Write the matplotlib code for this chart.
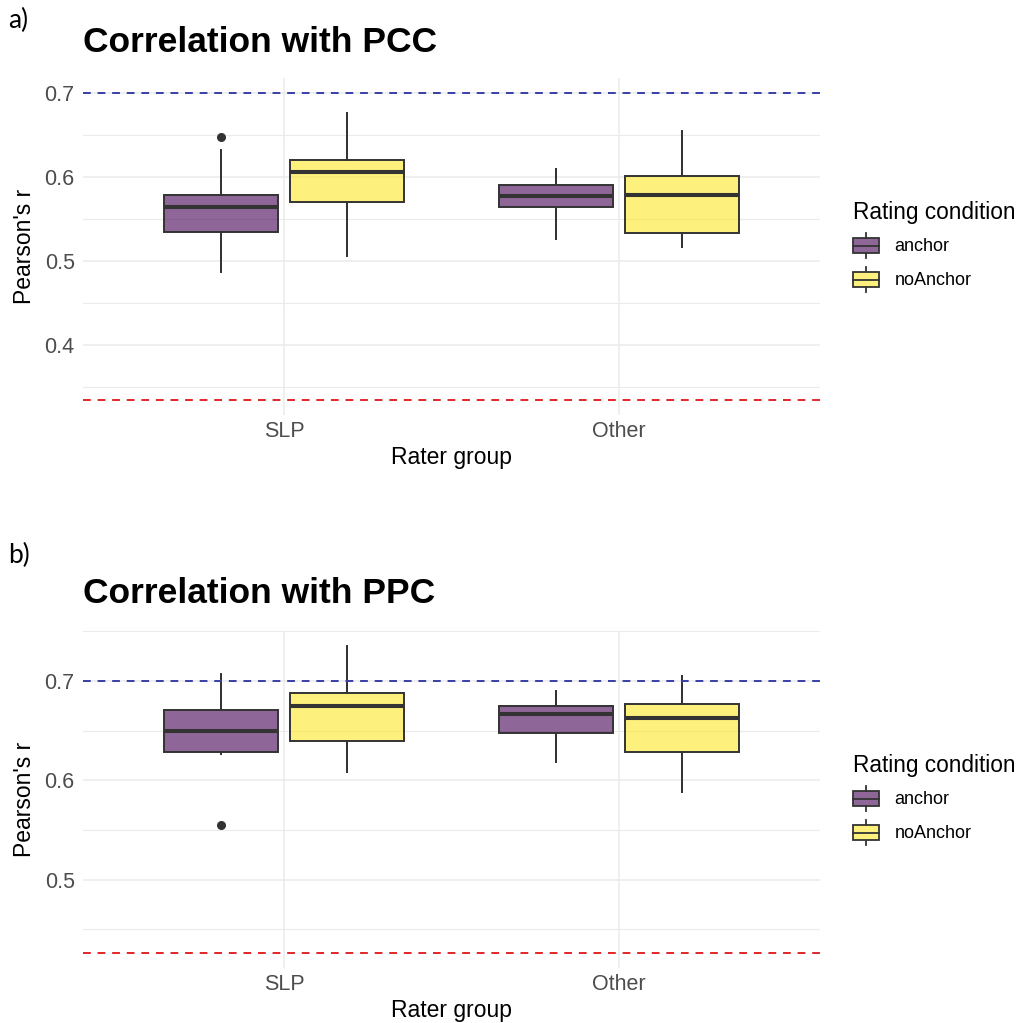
"""Boxplots: correlation with PCC / PPC by rater group and rating condition"""
import matplotlib
matplotlib.use("Agg")
import matplotlib.pyplot as plt
from matplotlib.patches import Rectangle, Patch
from matplotlib.lines import Line2D
from matplotlib.legend_handler import HandlerBase

plt.rcParams['font.family'] = ['Liberation Sans', 'DejaVu Sans']

groups = ["SLP", "Other"]
conditions = ["anchor", "noAnchor"]
fills = ["#440154", "#FDE725"]

# summary stats: (whislo, q1, med, q3, whishi, fliers)
pcc_stats = {
    ("SLP", "anchor"):    (0.487, 0.535, 0.564, 0.579, 0.632, [0.648]),
    ("SLP", "noAnchor"):  (0.506, 0.570, 0.606, 0.621, 0.676, []),
    ("Other", "anchor"):  (0.526, 0.564, 0.577, 0.591, 0.610, []),
    ("Other", "noAnchor"): (0.517, 0.533, 0.579, 0.601, 0.655, []),
}
ppc_stats = {
    ("SLP", "anchor"):    (0.627, 0.629, 0.650, 0.671, 0.707, [0.555]),
    ("SLP", "noAnchor"):  (0.608, 0.640, 0.675, 0.688, 0.735, []),
    ("Other", "anchor"):  (0.619, 0.648, 0.667, 0.675, 0.690, []),
    ("Other", "noAnchor"): (0.588, 0.629, 0.663, 0.677, 0.705, []),
}
pcc_lines = (0.7, 0.3345)
ppc_lines = (0.7, 0.4266)
pcc_major = [0.4, 0.5, 0.6, 0.7]
pcc_minor = [0.35, 0.45, 0.55, 0.65]
ppc_major = [0.5, 0.6, 0.7]
ppc_minor = [0.45, 0.55, 0.65, 0.75]

EDGE = "#333333"


class BoxKey(HandlerBase):
    def create_artists(self, legend, orig_handle, xdescent, ydescent,
                       width, height, fontsize, trans):
        x0, y0 = -xdescent, -ydescent
        xc = x0 + width / 2
        rect = Rectangle((x0, y0 + height * 0.2), width, height * 0.6,
                         facecolor=orig_handle.get_facecolor(),
                         edgecolor=EDGE, lw=1.3, transform=trans)
        med = Line2D([x0, x0 + width], [y0 + height / 2] * 2, color=EDGE, lw=1.3, transform=trans)
        w1 = Line2D([xc, xc], [y0, y0 + height * 0.2], color=EDGE, lw=1.3, transform=trans)
        w2 = Line2D([xc, xc], [y0 + height * 0.8, y0 + height], color=EDGE, lw=1.3, transform=trans)
        return [w1, w2, rect, med]


def panel(ax, stats, lines, major, minor, title, tag, fig, title_y, tag_y):
    top, bottom = lines
    allv = [v for s in stats.values() for v in s[:5]] + [f for s in stats.values() for f in s[5]] + list(lines)
    lo, hi = min(allv), max(allv)
    pad = (hi - lo) * 0.05
    ax.set_ylim(lo - pad, hi + pad)
    ax.set_xlim(-0.6, 1.6)

    for gi, g in enumerate(groups):
        for ci, c in enumerate(conditions):
            wl, q1, med, q3, wh, fl = stats[(g, c)]
            d = dict(whislo=wl, q1=q1, med=med, q3=q3, whishi=wh, fliers=fl)
            pos = [gi + (ci - 0.5) * 0.375]
            # translucent fill
            ax.bxp([d], positions=pos, widths=0.34,
                   showcaps=False, patch_artist=True,
                   boxprops=dict(facecolor=fills[ci], alpha=0.6, edgecolor='none', lw=0),
                   whiskerprops=dict(color=EDGE, lw=1.3),
                   medianprops=dict(color=EDGE, lw=2.9),
                   flierprops=dict(marker='o', markerfacecolor=EDGE, markeredgecolor=EDGE, markersize=5.5),
                   manage_ticks=False, zorder=3)
            # opaque outline on top
            ax.bxp([d], positions=pos, widths=0.34,
                   showcaps=False, patch_artist=True, showfliers=False,
                   boxprops=dict(facecolor='none', edgecolor=EDGE, lw=1.4),
                   whiskerprops=dict(color=EDGE, lw=1.3),
                   medianprops=dict(color=EDGE, lw=2.9),
                   manage_ticks=False, zorder=3)

    ax.axhline(top, color="#3A3FA8", ls=(0, (4, 3.5)), lw=1.4, zorder=4)
    ax.axhline(bottom, color="#E0262A", ls=(0, (4, 3.5)), lw=1.4, zorder=4)

    ax.set_yticks(major)
    ax.set_yticklabels([f"{v:.1f}" for v in major])
    ax.set_yticks(minor, minor=True)
    ax.set_xticks(range(len(groups)))
    ax.set_xticklabels(groups)
    ax.grid(which='major', color="#EBEBEB", lw=1.1, zorder=0)
    ax.grid(which='minor', axis='y', color="#EBEBEB", lw=0.8, zorder=0)
    ax.set_axisbelow(True)
    for s in ax.spines.values():
        s.set_visible(False)
    ax.tick_params(which='both', length=0, labelsize=15.5, labelcolor="#4D4D4D")
    ax.tick_params(axis='y', pad=6)
    ax.tick_params(axis='x', pad=4.5)
    ax.set_ylabel("Pearson's r", fontsize=16.5, labelpad=6)
    ax.set_xlabel("Rater group", fontsize=16.5, labelpad=3)

    handles = [Patch(facecolor=matplotlib.colors.to_rgba(f, 0.6)) for f in fills]
    ax.legend(handles, conditions, title="Rating condition", loc='center left',
              bbox_to_anchor=(1.045, 0.5), frameon=False, fontsize=13,
              title_fontsize=16.3, handler_map={Patch: BoxKey()},
              handlelength=1.45, handleheight=1.75, labelspacing=0.5,
              handletextpad=0.85, borderpad=0, borderaxespad=0, alignment='left')

    fig.text(83 / 1022, 1 - title_y / 1023, title, fontsize=25.5, fontweight='bold', va='baseline')
    fig.text(8 / 1022, 1 - tag_y / 1023, tag, fontsize=19, va='baseline', family=['Lato', 'DejaVu Sans'])


fig = plt.figure(figsize=(10.22, 10.23), dpi=100)
ax1 = fig.add_axes([83 / 1022, 1 - 415 / 1023, 737 / 1022, 337 / 1023])
ax2 = fig.add_axes([83 / 1022, 1 - 968 / 1023, 737 / 1022, 337 / 1023])

panel(ax1, pcc_stats, pcc_lines, pcc_major, pcc_minor, "Correlation with PCC", "a)", fig, 52, 28)
panel(ax2, ppc_stats, ppc_lines, ppc_major, ppc_minor, "Correlation with PPC", "b)", fig, 603, 563)

fig.savefig("out.png", dpi=100, facecolor="white")
